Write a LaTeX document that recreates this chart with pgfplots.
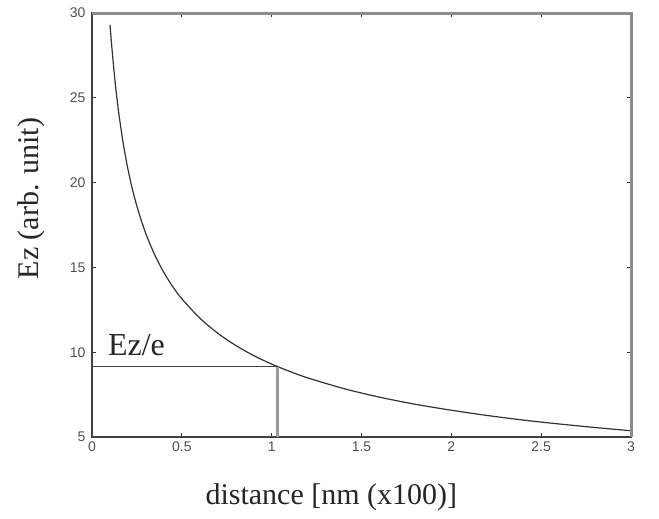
\documentclass[border=0pt]{standalone}
\usepackage{pgfplots}
\pgfplotsset{compat=1.18}
\usepackage{fontspec}
\setmainfont{Liberation Serif}
\newfontfamily\ticksans{Liberation Sans}
\definecolor{ticktext}{RGB}{80,80,80}

\begin{document}
\begin{tikzpicture}
\begin{axis}[
    name=ax,
    scale only axis,
    width=539bp, height=424bp,
    xmin=0, xmax=3,
    ymin=5, ymax=30,
    xtick={0,0.5,1,1.5,2,2.5,3},
    ytick={5,10,15,20,25,30},
    xticklabels={0,0.5,1,1.5,2,2.5,3},
    yticklabels={5,10,15,20,25,30},
    tick align=inside,
    major tick length=4bp,
    tick style={black!80, line width=1bp},
    tick label style={font=\ticksans\fontsize{14bp}{16bp}\selectfont, text=ticktext},
    yticklabel style={xshift=-3bp},
    xticklabel style={yshift=-1bp},
    axis line style={black!75, line width=1.5bp},
    xlabel={distance [nm (x100)]},
    ylabel={Ez (arb. unit)},
    label style={font=\fontsize{30bp}{34bp}\selectfont, text=black!85},
    xlabel style={at={(axis description cs:0.444,-0.160)}, anchor=base},
    ylabel style={at={(axis description cs:-0.113,0.5625)}, anchor=center, rotate=0},
    clip=false,
]

% field decay curve
\addplot[black!80, line width=1.2bp, smooth] coordinates {
    (0.10,29.30)(0.11,28.04)(0.12,26.85)(0.13,25.79)(0.14,24.86)
    (0.15,24.01)(0.17,22.56)(0.19,21.34)(0.21,20.29)(0.23,19.39)
    (0.26,18.24)(0.30,16.98)(0.35,15.72)(0.40,14.70)(0.45,13.86)
    (0.50,13.15)(0.60,12.01)(0.70,11.12)(0.80,10.40)(0.90,9.80)
    (1.00,9.30)(1.10,8.87)(1.20,8.49)(1.40,7.86)(1.60,7.35)
    (1.80,6.93)(2.00,6.58)(2.20,6.27)(2.40,6.00)(2.60,5.77)
    (2.80,5.56)(3.00,5.37)
};

% Ez/e level
\addplot[black!75, line width=1.6bp] coordinates {(0,9.15)(1.03,9.15)};
\addplot[black!40, line width=3bp] coordinates {(1.03,5)(1.03,9.15)};

\node[anchor=base west, font=\fontsize{32bp}{36bp}\selectfont, text=black!85, inner sep=0pt]
    at (axis cs:0.088,9.83) {Ez/e};

\draw[black!45, line width=3bp] (rel axis cs:0,1) -- (rel axis cs:1,1) -- (rel axis cs:1,0);

\coordinate (bl) at (rel axis cs:-0.1707,-0.191);
\coordinate (tr) at (rel axis cs:1.0519,1.0307);
\end{axis}
\pgfresetboundingbox
\useasboundingbox (bl) rectangle (tr);
\end{tikzpicture}
\end{document}
